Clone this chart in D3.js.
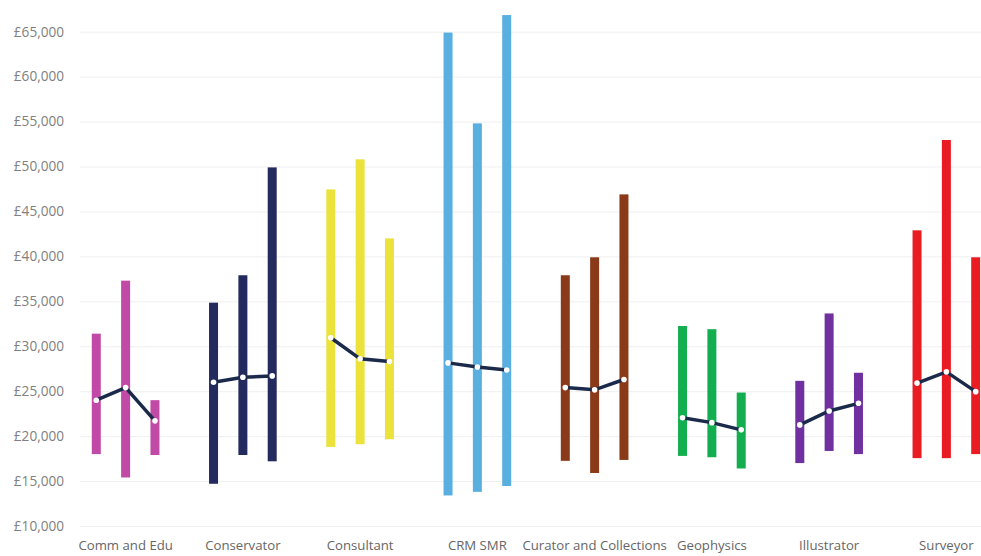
<!DOCTYPE html>
<html>
<head>
<meta charset="utf-8">
<script src="https://cdn.jsdelivr.net/npm/d3@7"></script>
<style>
  body { margin: 0; background: #fff; }
  .chart text { font-family: "Open Sans", sans-serif; }
</style>
</head>
<body>
<div class="chart"></div>
<script>
let categories = ['Comm and Edu', 'Conservator', 'Consultant', 'CRM SMR', 'Curator and Collections', 'Geophysics', 'Illustrator', 'Surveyor']
let colors = ['#c04aa6', '#232a5e', '#ebe23c', '#58afe0', '#8a3a18', '#13ae4f', '#7030a0', '#e81c22']

// three bars per category: low, high and median salary
let lows = [
  [18000, 15400, 17900],
  [14700, 17900, 17200],
  [18800, 19100, 19650],
  [13400, 13800, 14450],
  [17250, 15900, 17350],
  [17800, 17650, 16400],
  [17000, 18350, 18000],
  [17550, 17550, 18000]
]
let highs = [
  [31400, 37300, 24000],
  [34850, 37900, 49900],
  [47450, 50800, 42000],
  [64900, 54800, 66850],
  [37900, 39900, 46900],
  [32250, 31900, 24850],
  [26150, 33650, 27050],
  [42900, 52950, 39900]
]
let medians = [
  [24000, 25400, 21700],
  [26000, 26550, 26700],
  [30950, 28600, 28300],
  [28150, 27700, 27350],
  [25400, 25150, 26300],
  [22050, 21500, 20700],
  [21250, 22800, 23650],
  [25900, 27150, 24950]
]
let yTicks = [10000, 15000, 20000, 25000, 30000, 35000, 40000, 45000, 50000, 55000, 60000, 65000]

let width = 981
let height = 556

let svg = d3.select('.chart')
            .append('svg')
            .attr('width', width)
            .attr('height', height)

let yScale = d3.scaleLinear()
               .domain([10000, 65000])
               .range([526, 31.7])

let xScale = d3.scaleBand()
               .domain(categories)
               .range([67, 1005])

let subScale = d3.scaleBand()
                 .domain([0, 1, 2])
                 .range([-44, 44])

let barX = (c, i) => xScale(c) + xScale.bandwidth() / 2 + subScale(i) + subScale.bandwidth() / 2

// gridlines
let grid = svg.append('g')
              .attr('transform', 'translate(80,0)')
              .call(d3.axisLeft(yScale).tickValues(yTicks).tickSize(-(width - 80)).tickFormat(''))
grid.select('.domain').remove()
grid.selectAll('line').attr('stroke', '#efefef').attr('stroke-width', 1)

// y axis labels
let yAxis = svg.append('g')
               .attr('transform', 'translate(64,0)')
               .call(d3.axisLeft(yScale)
                       .tickValues(yTicks)
                       .tickSize(0)
                       .tickPadding(0)
                       .tickFormat(d => '£' + d3.format(',')(d)))
yAxis.select('.domain').remove()
yAxis.selectAll('text').attr('fill', '#808080').style('font-size', '13.6px')

// x axis labels
let xAxis = svg.append('g')
               .attr('transform', 'translate(0,541)')
               .call(d3.axisBottom(xScale).tickSize(0).tickPadding(0))
xAxis.select('.domain').remove()
xAxis.selectAll('text').attr('fill', '#666').style('font-size', '13.2px')

categories.forEach((c, g) => {
  let grp = svg.append('g')

  grp.selectAll('rect')
     .data(d3.range(3))
     .enter()
     .append('rect')
     .attr('x', i => barX(c, i) - 4.5)
     .attr('y', i => yScale(highs[g][i]))
     .attr('width', 9)
     .attr('height', i => yScale(lows[g][i]) - yScale(highs[g][i]))
     .attr('fill', colors[g])

  let line = d3.line()
               .x(i => barX(c, i))
               .y(i => yScale(medians[g][i]))

  grp.append('path')
     .datum(d3.range(3))
     .attr('d', line)
     .attr('fill', 'none')
     .attr('stroke', '#1b2a4a')
     .attr('stroke-width', 3.5)

  grp.selectAll('circle')
     .data(d3.range(3))
     .enter()
     .append('circle')
     .attr('cx', i => barX(c, i))
     .attr('cy', i => yScale(medians[g][i]))
     .attr('r', 2.8)
     .attr('fill', '#fff')
})
</script>
</body>
</html>
